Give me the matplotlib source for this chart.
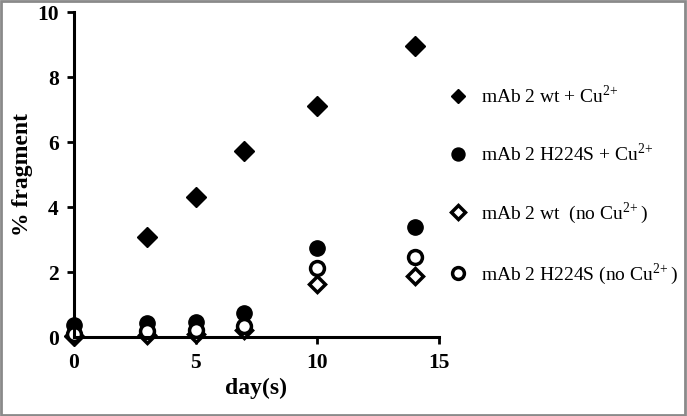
import matplotlib
matplotlib.use("Agg")
import matplotlib.pyplot as plt
from matplotlib.patches import Rectangle

plt.rcParams['font.family'] = ['Liberation Serif', 'DejaVu Serif']
plt.rcParams['mathtext.fontset'] = 'custom'
plt.rcParams['mathtext.rm'] = 'Liberation Serif'

# data
days = [0, 3, 5, 7, 10, 14]
wt_cu = [0.05, 3.08, 4.31, 5.73, 7.12, 8.97]
h224s_cu = [0.38, 0.43, 0.48, 0.74, 2.76, 3.38]
wt_nocu = [0.03, 0.08, 0.1, 0.22, 1.63, 1.89]
h224s_nocu = [0.1, 0.2, 0.22, 0.35, 2.12, 2.46]

labels = ['mAb 2 wt + Cu$^{2\\!+}$',
          'mAb 2 H224S + Cu$^{2\\!+}$',
          'mAb 2 wt  (no Cu$^{2\\!+}$)',
          'mAb 2 H224S (no Cu$^{2\\!+}$)']

fig = plt.figure(figsize=(6.87, 4.16), dpi=100)
ax = fig.add_axes([0.1077, 0.189, 0.5313, 0.782])

ax.plot(days, wt_cu, 'D', color='black', ms=10, clip_on=False, label=labels[0])
ax.plot(days, h224s_cu, 'o', color='black', ms=11, clip_on=False, label=labels[1])
ax.plot(days, wt_nocu, 'D', mfc='white', mec='black', mew=2.5, ms=8,
        clip_on=False, label=labels[2])
ax.plot(days, h224s_nocu, 'o', mfc='white', mec='black', mew=2.5, ms=10,
        clip_on=False, label=labels[3])

ax.set_xlim(0, 15)
ax.set_ylim(0, 10)
ax.set_xticks([0, 5, 10, 15])
ax.set_yticks([0, 2, 4, 6, 8, 10])
for s in ['top', 'right']:
    ax.spines[s].set_visible(False)
for s in ['left', 'bottom']:
    ax.spines[s].set_linewidth(2.2)
ax.tick_params(direction='out', length=5, width=2, labelsize=15.5, pad=6)
for t in ax.get_xticklabels() + ax.get_yticklabels():
    t.set_fontweight('bold')

ax.set_xlabel('day(s)', fontsize=17, fontweight='bold', labelpad=4)
ax.set_ylabel('% fragment', fontsize=17, fontweight='bold', labelpad=3)

leg = fig.legend(loc='upper left', bbox_to_anchor=(0.624, 0.84), frameon=False,
                 fontsize=14, labelspacing=1.82, handletextpad=0.6,
                 markerscale=0.85, handlelength=1.2)
# the filled diamond is drawn smaller in the reference legend
leg.legend_handles[0].set_markersize(7)

fig.patches.append(Rectangle((0.002, 0.003), 0.995, 0.994, transform=fig.transFigure,
                             fill=False, edgecolor='#8a8a8a', linewidth=2))

fig.savefig('out.png', dpi=100)
